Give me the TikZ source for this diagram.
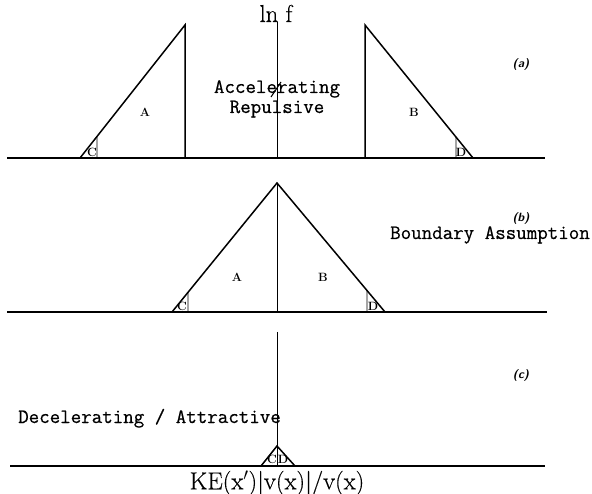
\documentclass[tikz,border=0pt]{standalone}
\usepackage{fontspec}
\newfontfamily\monofont[FakeBold=0.6]{Latin Modern Mono}
\newfontfamily\romfont[FakeBold=0.4]{Latin Modern Roman}
\usetikzlibrary{calc}
\begin{document}
\begin{tikzpicture}[x=1pt,y=-1pt,
  tri/.style={line width=1.5pt},
  axis/.style={line width=1.3pt},
  thinl/.style={line width=0.9pt},
  big/.style={font=\monofont\fontsize{20.4}{22}\selectfont, inner sep=0pt},
  lbl/.style={font=\bfseries\fontsize{12}{14}\selectfont, inner sep=0pt},
  tag/.style={font=\sffamily\bfseries\itshape\fontsize{12}{14}\selectfont, inner sep=0pt},
  xl/.style={font=\romfont\fontsize{24.5}{27}\selectfont, inner sep=0pt}]
\useasboundingbox (0,0) rectangle (592,494);

% ---------- panel (a)
\coordinate (a0) at (7,158); \coordinate (a1) at (545,158);
\coordinate (aL) at (80,158); \coordinate (aLt) at (185,25); \coordinate (aLb) at (185,158);
\coordinate (aR) at (473,158); \coordinate (aRt) at (365,25); \coordinate (aRb) at (365,158);
\coordinate (aCb) at (97,158); \coordinate (aCt) at ($(aL)!{17/105}!(aLt)$);
\coordinate (aDb) at (456,158); \coordinate (aDt) at ($(aR)!{17/108}!(aRt)$);
\coordinate (aMt) at (277,22); \coordinate (aMb) at (277,158);
\draw[axis] (a0) -- (a1);
\draw[tri] (aL) -- (aLt) -- (aLb);
\draw[tri] (aR) -- (aRt) -- (aRb);
\draw[thinl] (aCb) -- (aCt);
\draw[thinl] (aDb) -- (aDt);
\draw[thinl] (aMt) -- (aMb);
\node[xl, anchor=base] (lnf) at (276,22) {ln f};
\node[big, anchor=base] (acc) at (277,93) {Accelerating};
\node[big, anchor=base] (rep) at (277,113) {Repulsive};
\coordinate (s1) at (271,97); \coordinate (s2) at (281,82);
\draw[line width=1.1pt] (s1) -- (s2);
\node[lbl] (A1) at (145,112) {A};
\node[lbl] (B1) at (414,112) {B};
\node[lbl] (C1) at (92,152) {C};
\node[lbl] (D1) at (461,152) {D};
\node[tag] (ta) at (521,65) {(a)};

% ---------- panel (b)
\coordinate (b0) at (7,312); \coordinate (b1) at (547,312);
\coordinate (bL) at (172,312); \coordinate (bT) at (277,183); \coordinate (bR) at (385,312);
\coordinate (bMb) at (277,312);
\coordinate (bCb) at (188,312); \coordinate (bCt) at ($(bL)!{16/105}!(bT)$);
\coordinate (bDb) at (367,312); \coordinate (bDt) at ($(bR)!{18/108}!(bT)$);
\draw[axis] (b0) -- (b1);
\draw[tri] (bL) -- (bT) -- (bR);
\draw[thinl] (bT) -- (bMb);
\draw[thinl] (bCb) -- (bCt);
\draw[thinl] (bDb) -- (bDt);
\node[lbl] (A2) at (237,277) {A};
\node[lbl] (B2) at (323,277) {B};
\node[lbl] (C2) at (182,306) {C};
\node[lbl] (D2) at (373,306) {D};
\node[tag] (tb) at (521,219) {(b)};
\node[big, anchor=base east] (bnd) at (590,239) {Boundary Assumption};

% ---------- panel (c)
\coordinate (c0) at (10,466); \coordinate (c1) at (545,466);
\coordinate (cMt) at (277,332); \coordinate (cMb) at (277,466);
\coordinate (cL) at (261,466); \coordinate (cT) at (277,446); \coordinate (cR) at (295,466);
\draw[axis] (c0) -- (c1);
\draw[thinl] (cMt) -- (cMb);
\draw[tri] (cL) -- (cT) -- (cR);
\node[lbl] (C3) at (272,459) {C};
\node[lbl] (D3) at (283,459) {D};
\node[tag] (tc) at (521,375) {(c)};
\node[big, anchor=base west] (dec) at (18,423) {Decelerating / Attractive};
\node[xl] (ke) at (277,483) {KE(x$'$)|v(x)|/v(x)};
\end{tikzpicture}
\end{document}
